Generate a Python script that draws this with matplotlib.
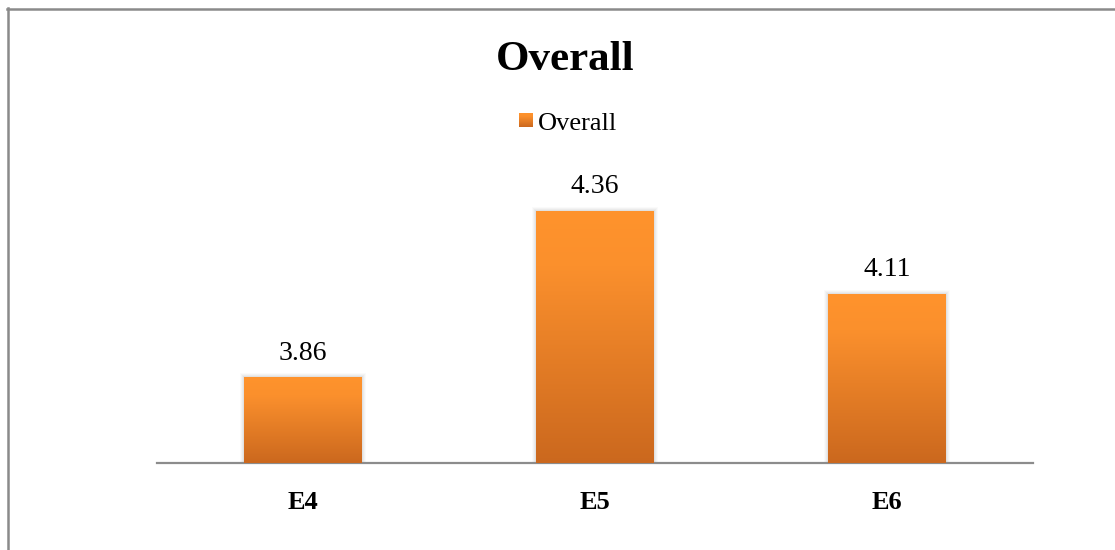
import numpy as np
import matplotlib
matplotlib.use("Agg")
import matplotlib.pyplot as plt
from matplotlib.colors import LinearSegmentedColormap
from matplotlib.patches import Rectangle
from matplotlib.lines import Line2D

# Chart data
categories = ["E4", "E5", "E6"]
overall = [3.86, 4.36, 4.11]
series_name = "Overall"
title = "Overall"

plt.rcParams["font.family"] = ["Liberation Serif", "DejaVu Serif"]

W, H = 1115, 550
fig = plt.figure(figsize=(W / 100, H / 100), dpi=100)
fig.patch.set_facecolor("white")

# Orange vertical gradient (light on top, darker at the base)
grad = LinearSegmentedColormap.from_list(
    "orange_grad",
    [(0.0, "#FF932C"), (0.22, "#FB902D"), (1.0, "#CB681E")],
)
gimg = np.linspace(0, 1, 256).reshape(-1, 1)

# Plot area
x0, x1 = 157, 1033
y_base, y_top = 463, 164
ax = fig.add_axes([x0 / W, 1 - y_base / H, (x1 - x0) / W, (y_base - y_top) / H])
ymin, ymax = 3.6, 4.5
ax.set_xlim(-0.5, len(categories) - 0.5)
ax.set_ylim(ymin, ymax)
ax.set_facecolor("none")
for s in ["top", "right", "left"]:
    ax.spines[s].set_visible(False)
ax.spines["bottom"].set_color("#8C8C8C")
ax.spines["bottom"].set_linewidth(1.6)
ax.set_yticks([])
ax.set_xticks(range(len(categories)))
ax.set_xticklabels(categories, fontsize=19, fontweight="bold")
ax.tick_params(axis="x", length=0, pad=20)

width = 0.404
px_x = 1 / 292.0
px_y = (ymax - ymin) / (y_base - y_top)
bars = ax.bar(range(len(categories)), [v - ymin for v in overall], bottom=ymin,
              width=width, color="none", edgecolor="none", zorder=3)
for i, (b, v) in enumerate(zip(bars, overall)):
    bx = b.get_x()
    # soft grey glow around the bar
    for k, a in [(4, 0.03), (3, 0.045), (2, 0.06), (1, 0.08)]:
        ax.add_patch(Rectangle((bx - k * px_x, ymin), width + 2 * k * px_x,
                               v - ymin + k * px_y, facecolor="#6E6E6E",
                               edgecolor="none", alpha=a, zorder=2))
    im = ax.imshow(gimg, cmap=grad, aspect="auto",
                   extent=[bx, bx + width, ymin, v], zorder=3,
                   interpolation="bilinear")
    im.set_clip_path(b)
    ax.annotate(f"{v:.2f}", (i, v), xytext=(0, 8), textcoords="offset points",
                ha="center", va="bottom", fontsize=20, color="black")

# Title
fig.text(565 / W, 1 - 70 / H, title, ha="center", va="baseline",
         fontsize=31, fontweight="bold", color="black")

# Legend: gradient swatch and label
lax = fig.add_axes([519 / W, 1 - 127 / H, 14 / W, 14 / H])
lax.imshow(gimg, cmap=grad, aspect="auto", extent=[0, 1, 0, 1],
           interpolation="bilinear")
lax.set_axis_off()
fig.text(538 / W, 1 - 130 / H, series_name, ha="left", va="baseline",
         fontsize=19, color="black")

# Chart frame (left and top edges)
fig.add_artist(Line2D([7.5 / W, 7.5 / W], [0, 1 - 8 / H], transform=fig.transFigure,
                      color="#8A8A8A", lw=1.8))
fig.add_artist(Line2D([7 / W, 1], [1 - 8.5 / H, 1 - 8.5 / H], transform=fig.transFigure,
                      color="#8A8A8A", lw=1.8))

fig.savefig("out.png", dpi=100, facecolor="white")
